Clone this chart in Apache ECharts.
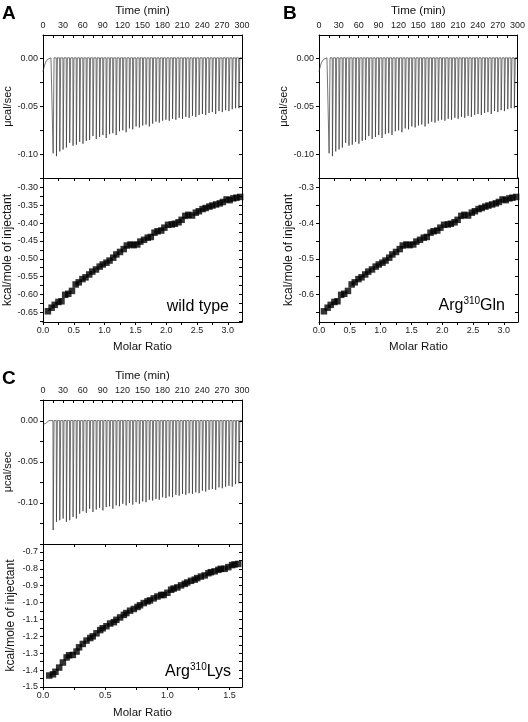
<!DOCTYPE html>
<html><head><meta charset="utf-8">
<script src="https://cdn.jsdelivr.net/npm/echarts@6/dist/echarts.min.js"></script>
<style>html,body{margin:0;padding:0;background:#fff}#c{width:528px;height:722px}</style>
</head><body><div id="c"></div>
<script>
// ---------- data ----------
const injectionTimes = [15,20,25,30,35,40,45,50,55,60,65,70,75,80,85,90,95,100,105,110,115,120,125,130,135,140,145,150,155,160,165,170,175,180,185,190,195,200,205,210,215,220,225,230,235,240,245,250,255,260,265,270,275,280,285,290,295];
// peak heat-flow (µcal/sec) of each injection
const peaksWT = [-0.099,-0.102,-0.097,-0.095,-0.093,-0.088,-0.091,-0.090,-0.087,-0.089,
  -0.086,-0.085,-0.081,-0.084,-0.082,-0.080,-0.083,-0.079,-0.078,-0.080,
  -0.076,-0.075,-0.077,-0.073,-0.074,-0.071,-0.072,-0.070,-0.069,-0.071,
  -0.068,-0.066,-0.067,-0.065,-0.064,-0.065,-0.063,-0.064,-0.062,-0.063,
  -0.061,-0.062,-0.060,-0.061,-0.059,-0.058,-0.059,-0.057,-0.056,-0.058,
  -0.055,-0.056,-0.054,-0.055,-0.053,-0.052,-0.052];
const peaksGln = peaksWT.slice();
const peaksLys = [-0.133,-0.123,-0.121,-0.119,-0.123,-0.121,-0.117,-0.119,-0.113,-0.110,
  -0.112,-0.107,-0.111,-0.108,-0.106,-0.109,-0.105,-0.104,-0.107,-0.103,
  -0.104,-0.101,-0.103,-0.100,-0.102,-0.099,-0.101,-0.098,-0.099,-0.096,
  -0.097,-0.095,-0.096,-0.093,-0.094,-0.092,-0.093,-0.090,-0.091,-0.089,
  -0.090,-0.088,-0.089,-0.087,-0.088,-0.085,-0.086,-0.084,-0.083,-0.084,
  -0.081,-0.082,-0.080,-0.079,-0.080,-0.077,-0.076];
// pre-injection baseline drift
const startWT = [[0,-0.014],[1,-0.011],[2,-0.008],[3,-0.006],[4,-0.004],[5,-0.003],[6,-0.002],[7,-0.001],[9,0.0005],[12,0.0005]];
const startGln = startWT.slice();
const startLys = [[0,-0.004],[2,-0.005],[3,-0.006],[4,-0.003],[5,-0.002],[6,-0.005],[7,-0.003],[9,0.0005],[12,0.0005]];

// integrated heats
const ratioAB = [0.08,0.14,0.19,0.25,0.30,0.36,0.41,0.47,0.53,0.58,
  0.64,0.69,0.75,0.80,0.86,0.92,0.97,1.03,1.08,1.14,
  1.19,1.25,1.31,1.36,1.42,1.47,1.53,1.58,1.64,1.70,
  1.75,1.81,1.86,1.92,1.97,2.03,2.09,2.14,2.20,2.25,
  2.31,2.36,2.42,2.48,2.53,2.59,2.64,2.70,2.75,2.81,
  2.87,2.92,2.98,3.03,3.09,3.14,3.20];
const heatWT = [-0.647,-0.637,-0.629,-0.621,-0.619,-0.601,-0.598,-0.590,-0.572,-0.566,
  -0.557,-0.552,-0.544,-0.536,-0.530,-0.522,-0.516,-0.511,-0.505,-0.497,
  -0.488,-0.481,-0.473,-0.463,-0.460,-0.462,-0.460,-0.452,-0.447,-0.441,
  -0.439,-0.427,-0.423,-0.421,-0.413,-0.405,-0.404,-0.402,-0.398,-0.391,
  -0.380,-0.377,-0.379,-0.371,-0.367,-0.361,-0.358,-0.354,-0.351,-0.348,
  -0.345,-0.341,-0.334,-0.336,-0.331,-0.329,-0.327];
const heatGln = heatWT.slice();
const ratioC = [0.05,0.08,0.10,0.13,0.16,0.19,0.21,0.24,0.27,0.29,
  0.32,0.35,0.38,0.40,0.43,0.46,0.48,0.51,0.54,0.57,
  0.59,0.62,0.65,0.67,0.70,0.73,0.76,0.78,0.81,0.84,
  0.86,0.89,0.92,0.95,0.97,1.00,1.03,1.05,1.08,1.11,
  1.14,1.16,1.19,1.22,1.24,1.27,1.30,1.33,1.35,1.38,
  1.41,1.43,1.46,1.49,1.52,1.54,1.57];
const heatLys = [-1.432,-1.425,-1.410,-1.385,-1.355,-1.325,-1.312,-1.310,-1.290,-1.265,
  -1.245,-1.225,-1.210,-1.200,-1.182,-1.163,-1.152,-1.140,-1.124,-1.116,
  -1.102,-1.088,-1.073,-1.062,-1.048,-1.038,-1.026,-1.016,-1.003,-0.993,
  -0.987,-0.975,-0.964,-0.955,-0.955,-0.942,-0.924,-0.917,-0.910,-0.898,
  -0.889,-0.881,-0.871,-0.864,-0.855,-0.846,-0.839,-0.826,-0.820,-0.815,
  -0.806,-0.800,-0.800,-0.790,-0.778,-0.774,-0.771];

// tick labels
const timeLabels = [0,30,60,90,120,150,180,210,240,270,300];
const timeTicks = [0,15,30,45,60,75,90,105,120,135,150,165,180,195,210,225,240,255,270,285,300];
const rawLabels = [0,-0.05,-0.10];
const rawTicksAB = [0,-0.025,-0.05,-0.075,-0.10];
const rawTicksC = [0.025,0,-0.025,-0.05,-0.075,-0.10,-0.125,-0.15];
const heatLabelsA = [-0.30,-0.35,-0.40,-0.45,-0.50,-0.55,-0.60,-0.65];
const heatTicksA = [-0.275,-0.30,-0.325,-0.35,-0.375,-0.40,-0.425,-0.45,-0.475,-0.50,-0.525,-0.55,-0.575,-0.60,-0.625,-0.65,-0.675];
const heatLabelsB = [-0.3,-0.4,-0.5,-0.6];
const heatTicksB = [-0.3,-0.35,-0.4,-0.45,-0.5,-0.55,-0.6,-0.65];
const heatLabelsC = [-0.7,-0.8,-0.9,-1.0,-1.1,-1.2,-1.3,-1.4,-1.5];
const heatTicksC = [-0.7,-0.75,-0.8,-0.85,-0.9,-0.95,-1.0,-1.05,-1.1,-1.15,-1.2,-1.25,-1.3,-1.35,-1.4,-1.45,-1.5];
const ratioLabelsAB = [0,0.5,1.0,1.5,2.0,2.5,3.0];
const ratioTicksAB = [0,0.25,0.5,0.75,1.0,1.25,1.5,1.75,2.0,2.25,2.5,2.75,3.0];
const ratioLabelsC = [0,0.5,1.0,1.5];
const ratioTicksC = [0,0.25,0.5,0.75,1.0,1.25,1.5];

// ---------- build ----------
const FONT = 'Liberation Sans, Arial, sans-serif';
function trace(start, peaks){
  const d = start.map(p=>p.slice());
  injectionTimes.forEach((t,i)=>{ d.push([t,0.0005],[t+0.3,peaks[i]],[t+1.7,0.0005]); });
  d.push([300,0.0005]);
  return d;
}
const grids=[], xAxes=[], yAxes=[], series=[];
function axisBase(extra){
  return Object.assign({
    type:'value', splitLine:{show:false},
    axisLine:{show:true,onZero:false,lineStyle:{color:'#000',width:1}},
    axisTick:{show:false}, axisLabel:{show:false}, nameTextStyle:{fontFamily:FONT,color:'#111'}
  }, extra);
}
function tick(vals, inside, len){ return {show:true, inside:inside, length:len, customValues:vals, lineStyle:{color:'#000',width:1}}; }
function lab(vals, fmt, margin){ return {show:true, customValues:vals, formatter:fmt, fontSize:9, color:'#222', fontFamily:FONT, margin:margin}; }

function panel(p){
  const gi = grids.length;
  grids.push({left:p.left, top:p.top, width:199, height:p.hT});
  grids.push({left:p.left, top:p.top+p.hT, width:199, height:p.hB});
  const xi = xAxes.length, yi = yAxes.length;
  // x axes
  xAxes.push(axisBase({gridIndex:gi, position:'top', min:0, max:300,
    axisTick:tick(timeTicks,true,3), axisLabel:lab(timeLabels, v=>String(v), 5),
    name:'Time (min)', nameLocation:'middle', nameGap:18, nameTextStyle:{fontFamily:FONT,color:'#111',fontSize:11.5}}));
  xAxes.push(axisBase({gridIndex:gi, position:'bottom', min:0, max:300}));
  xAxes.push(axisBase({gridIndex:gi+1, position:'top', min:0, max:p.mrMax, axisTick:tick(p.mrTicks,true,3)}));
  xAxes.push(axisBase({gridIndex:gi+1, position:'bottom', min:0, max:p.mrMax,
    axisTick:tick(p.mrTicks,false,3), axisLabel:lab(p.mrLabels, v=>v.toFixed(1), 4),
    name:'Molar Ratio', nameLocation:'middle', nameGap:p.mrGap, nameTextStyle:{fontFamily:FONT,color:'#111',fontSize:11.5}}));
  // y axes
  yAxes.push(axisBase({gridIndex:gi, position:'left', min:p.rawMin, max:p.rawMax,
    axisTick:tick(p.rawTicks,false,3), axisLabel:lab(rawLabels, v=>v.toFixed(2), 5),
    name:'\u03bccal/sec', nameLocation:'middle', nameGap:p.nameGapT, nameTextStyle:{fontFamily:FONT,color:'#111',fontSize:11}}));
  yAxes.push(axisBase({gridIndex:gi, position:'right', min:p.rawMin, max:p.rawMax, axisTick:tick(p.rawTicks,true,3)}));
  yAxes.push(axisBase({gridIndex:gi+1, position:'left', min:p.hMin, max:p.hMax,
    axisTick:tick(p.hTicks,false,3), axisLabel:lab(p.hLabels, p.hFmt, 5),
    name:'kcal/mole of injectant', nameLocation:'middle', nameGap:p.nameGapB, nameTextStyle:{fontFamily:FONT,color:'#111',fontSize:12}}));
  yAxes.push(axisBase({gridIndex:gi+1, position:'right', min:p.hMin, max:p.hMax, axisTick:tick(p.hTicks,true,3)}));
  series.push({type:'line', xAxisIndex:xi, yAxisIndex:yi, data:trace(p.start,p.peaks), showSymbol:false,
    lineStyle:{color:'#2a2a2a',width:0.65}, animation:false, silent:true, clip:true});
  series.push({type:'scatter', xAxisIndex:xi+3, yAxisIndex:yi+2, data:p.ratio.map((r,i)=>[r,p.heat[i]]),
    symbol:'rect', symbolSize:6.5, itemStyle:{color:'#000'}, animation:false, silent:true});
}
panel({left:43, top:35, hT:143, hB:144, mrMax:3.23, mrTicks:ratioTicksAB, mrLabels:ratioLabelsAB, mrGap:19,
  rawMin:-0.1247, rawMax:0.0243, rawTicks:rawTicksAB, nameGapT:30,
  hMin:-0.677, hMax:-0.274, hTicks:heatTicksA, hLabels:heatLabelsA, hFmt:v=>v.toFixed(2), nameGapB:29,
  start:startWT, peaks:peaksWT, ratio:ratioAB, heat:heatWT});
panel({left:319, top:35, hT:143, hB:144, mrMax:3.23, mrTicks:ratioTicksAB, mrLabels:ratioLabelsAB, mrGap:19,
  rawMin:-0.1247, rawMax:0.0243, rawTicks:rawTicksAB, nameGapT:19,
  hMin:-0.677, hMax:-0.274, hTicks:heatTicksB, hLabels:heatLabelsB, hFmt:v=>v.toFixed(1), nameGapB:20,
  start:startGln, peaks:peaksGln, ratio:ratioAB, heat:heatGln});
panel({left:43, top:400, hT:144, hB:143, mrMax:1.6, mrTicks:ratioTicksC, mrLabels:ratioLabelsC, mrGap:20,
  rawMin:-0.15, rawMax:0.0256, rawTicks:rawTicksC, nameGapT:30,
  hMin:-1.5, hMax:-0.653, hTicks:heatTicksC, hLabels:heatLabelsC, hFmt:v=>v.toFixed(1), nameGapB:26,
  start:startLys, peaks:peaksLys, ratio:ratioC, heat:heatLys});

const graphic = [
  {type:'text', left:2, top:4, style:{text:'A', font:'bold 19px '+FONT, fill:'#000'}},
  {type:'text', left:283, top:4, style:{text:'B', font:'bold 19px '+FONT, fill:'#000'}},
  {type:'text', left:2, top:369, style:{text:'C', font:'bold 19px '+FONT, fill:'#000'}},
  {type:'text', x:229, y:307, style:{text:'wild type', font:'16px '+FONT, fill:'#000', align:'right', verticalAlign:'middle'}},
  {type:'text', x:505, y:305, style:{text:'{a|Arg}{s|310}{a|Gln}', align:'right', verticalAlign:'middle',
    rich:{a:{fontSize:16, fontFamily:FONT, fill:'#000', lineHeight:18, verticalAlign:'bottom'}, s:{fontSize:10, fontFamily:FONT, fill:'#000', lineHeight:18, verticalAlign:'top'}}}},
  {type:'text', x:231, y:671, style:{text:'{a|Arg}{s|310}{a|Lys}', align:'right', verticalAlign:'middle',
    rich:{a:{fontSize:16, fontFamily:FONT, fill:'#000', lineHeight:18, verticalAlign:'bottom'}, s:{fontSize:10, fontFamily:FONT, fill:'#000', lineHeight:18, verticalAlign:'top'}}}}
];

const chart = echarts.init(document.getElementById('c'), null, {renderer:'canvas'});
chart.setOption({backgroundColor:'#fff', animation:false, grid:grids, xAxis:xAxes, yAxis:yAxes, series:series, graphic:graphic});
</script></body></html>
